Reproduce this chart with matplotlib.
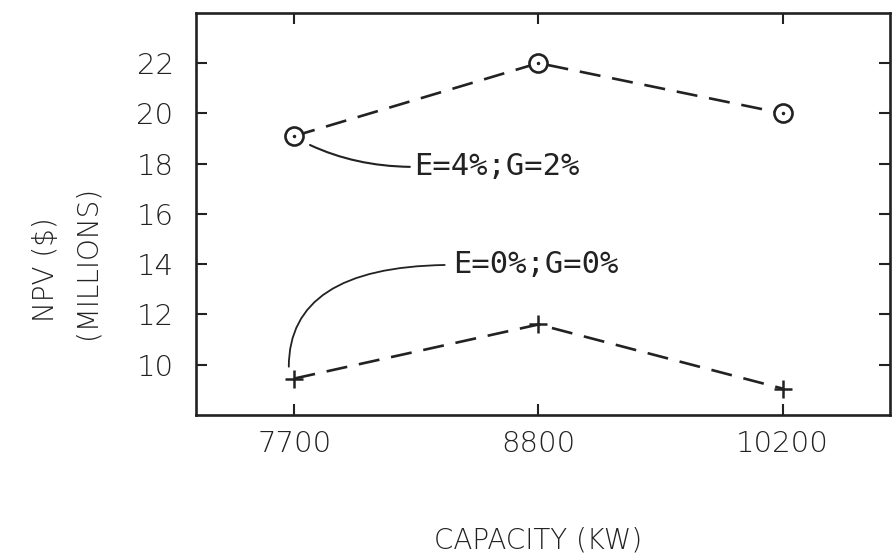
import matplotlib
matplotlib.use("Agg")
import matplotlib.pyplot as plt

# ---- data ----
capacities = ["7700", "8800", "10200"]
npv_e4_g2 = [19.1, 22.0, 20.0]   # E=4%; G=2%  (circle markers)
npv_e0_g0 = [9.45, 11.6, 9.05]   # E=0%; G=0%  (plus markers)
yticks = [10, 12, 14, 16, 18, 20, 22]
label_a = "E=4%;G=2%"
label_b = "E=0%;G=0%"
xlabel = "CAPACITY (KW)"
ylabel1 = "NPV ($)"
ylabel2 = "(MILLIONS)"

plt.rcParams["font.family"] = ["DejaVu Sans"]

ink = "#222222"
fig = plt.figure(figsize=(8.94, 5.57), dpi=100)
ax = fig.add_axes([0.219, 0.255, 0.7765, 0.722])

x = list(range(len(capacities)))
ax.plot(x, npv_e4_g2, color=ink, lw=1.9, dashes=(8, 4.5), zorder=2)
ax.plot(x, npv_e4_g2, ls="none", marker="o", ms=13, mfc="white", mec=ink, mew=1.9, zorder=3)
ax.plot(x, npv_e4_g2, ls="none", marker=".", ms=3, color=ink, zorder=4)
ax.plot(x, npv_e0_g0, color=ink, lw=1.9, dashes=(8, 4.5), zorder=2)
ax.plot(x, npv_e0_g0, ls="none", marker="+", ms=13, mew=1.8, color=ink, zorder=3)

ax.set_xlim(-0.404, 2.44)
ax.set_ylim(8, 24)
ax.set_xticks(x)
ax.set_xticklabels(capacities)
ax.set_yticks(yticks)
ax.tick_params(direction="in", length=8, width=1.5, colors=ink, labelsize=21,
               top=True, right=True)
ax.tick_params(axis="y", pad=16)
ax.tick_params(axis="x", pad=11)
for lab in ax.get_xticklabels() + ax.get_yticklabels():
    lab.set_fontweight("light")
for s in ax.spines.values():
    s.set_linewidth(1.9)
    s.set_color(ink)

mono = ["DejaVu Sans Mono"]
ax.annotate(label_a, xy=(0.064, 18.74), xytext=(0.49, 17.87), textcoords="data",
            ha="left", va="center", fontsize=22, color=ink, family=mono,
            arrowprops=dict(arrowstyle="-", color=ink, lw=1.5, relpos=(0, 0.5),
                            shrinkA=1, shrinkB=0,
                            connectionstyle="angle3,angleA=0,angleB=-25"))
ax.annotate(label_b, xy=(-0.023, 9.92), xytext=(0.65, 13.97), textcoords="data",
            ha="left", va="center", fontsize=22, color=ink, family=mono,
            arrowprops=dict(arrowstyle="-", color=ink, lw=1.3, relpos=(0, 0.5),
                            shrinkA=4, shrinkB=0,
                            connectionstyle="angle3,angleA=0,angleB=90"))

fig.text(538 / 894, 1 - 541 / 557, xlabel, ha="center", va="center", fontsize=20,
         color=ink, fontweight="light")
fig.text(46 / 894, 1 - 270 / 557, ylabel1, ha="center", va="center", rotation=90,
         fontsize=20, color=ink, fontweight="light")
fig.text(87 / 894, 1 - 262 / 557, ylabel2, ha="center", va="center", rotation=90,
         fontsize=20, color=ink, fontweight="light")

fig.savefig("out.png", dpi=100)
